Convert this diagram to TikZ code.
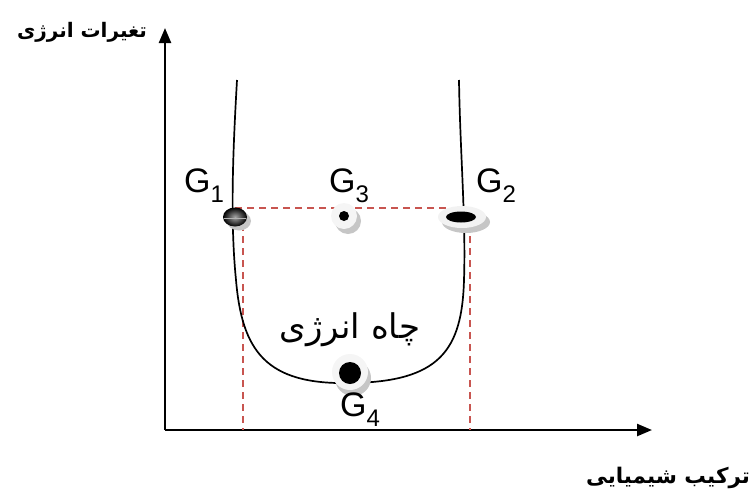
\documentclass[tikz,border=0pt]{standalone}
\usepackage{fontspec}
\setmainfont{Liberation Sans}
\newfontfamily\arabicfont[Script=Arabic]{DejaVu Sans}
\TeXXeTstate=1
\usetikzlibrary{arrows.meta}
\definecolor{guidered}{RGB}{200,85,80}
\newcommand{\gsub}[1]{G\raisebox{-0.3em}{\fontsize{24}{26}\selectfont #1}}
\begin{document}
\begin{tikzpicture}[x=1pt,y=-1pt,
  axis/.style={line width=2.4pt,-{Triangle[length=15pt,width=12pt]}},
  guide/.style={draw=guidered,dash pattern=on 7pt off 5pt,line width=2.2pt},
  glabel/.style={font=\fontsize{34}{36}\selectfont,inner sep=0pt},
  albl/.style={font=\arabicfont\bfseries\fontsize{20}{24}\selectfont,inner sep=0pt},
  shadow/.style={fill=gray!45}]
\useasboundingbox (0,0) rectangle (755,493);
% axes
\coordinate (O) at (165,430);
\coordinate (Ytop) at (165,28);
\coordinate (Xend) at (652,430);
\draw[axis] (O) -- (Ytop);
\draw[axis] (O) -- (Xend);
% dashed guides
\coordinate (L1) at (235,208);
\coordinate (R1) at (466,208);
\coordinate (L2) at (243,212);
\coordinate (L3) at (243,430);
\coordinate (R2) at (470,212);
\coordinate (R3) at (470,430);
\draw[guide] (L1) -- (R1);
\draw[guide] (L2) -- (L3);
\draw[guide] (R2) -- (R3);
% energy well curve
\draw[line width=1.7pt] (237,80) .. controls (233,150) and (230,220) .. (236,280)
  .. controls (242,350) and (265,385) .. (350,383)
  .. controls (440,382) and (462,350) .. (464,280)
  .. controls (466,220) and (460,150) .. (459,80);
% G1 ball
\fill[shadow] (239,221) ellipse (12pt and 9.5pt);
\shade[inner color=gray!70,outer color=black] (235,217) ellipse (12pt and 9.5pt);
\draw[gray!60,line width=0.7pt] (224,218) -- (246,218);
% G3 ball
\fill[shadow] (348,221) circle (13pt);
\fill[gray!8] (344,216) circle (13pt);
\fill[black] (344,216) circle (5pt);
% G2 ball
\fill[shadow] (466,222) ellipse (24pt and 11pt);
\fill[gray!10] (462,217) ellipse (24pt and 11pt);
\fill[black] (461,217) ellipse (15pt and 5.5pt);
% G4 ball
\fill[shadow] (353,378) circle (18pt);
\fill[gray!8] (350,372) circle (18pt);
\fill[black] (350,373) circle (11pt);
% labels
\node[glabel] (g1) at (204,186) {\gsub{1}};
\node[glabel] (g3) at (349,186) {\gsub{3}};
\node[glabel] (g2) at (496,186) {\gsub{2}};
\node[glabel] (g4) at (360,410) {\gsub{4}};
\node[font=\arabicfont\fontsize{34}{38}\selectfont,inner sep=0pt] (well) at (350,330) {\beginR چاه انرژی\endR};
\node[albl] (ylab) at (82,32) {\beginR تغیرات انرژی\endR};
\node[albl,font=\arabicfont\bfseries\fontsize{21.5}{24}\selectfont] (xlab) at (668,478) {\beginR ترکیب شیمیایی\endR};
\end{tikzpicture}
\end{document}
